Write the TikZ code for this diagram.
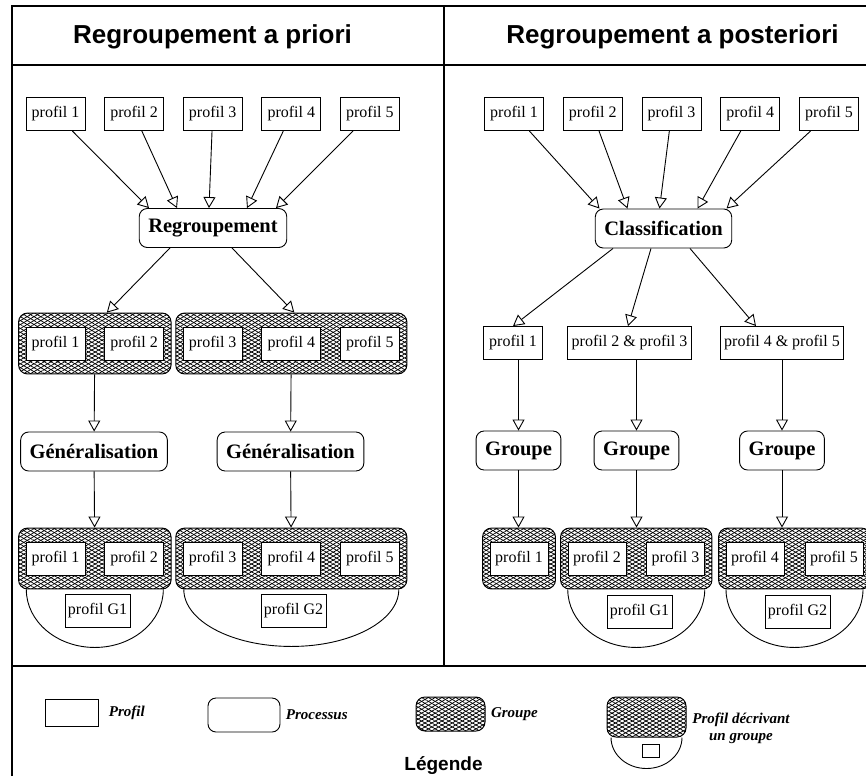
\documentclass[tikz,border=0pt]{standalone}
\usepackage{fontspec}
\setmainfont{Liberation Serif}
\setsansfont{Liberation Sans}
\usetikzlibrary{positioning, arrows.meta, fit, calc, patterns.meta, backgrounds}

\begin{document}
\begin{tikzpicture}[x=1pt,y=-1pt,
          pf/.style={draw,fill=white,line width=0.9pt,minimum width=59pt,minimum height=33pt,
            inner xsep=4pt,inner ysep=0pt,font=\fontsize{16}{18}\selectfont},
          proc/.style={draw,fill=white,line width=0.9pt,rounded corners=8pt,minimum height=39pt,
            inner xsep=9pt,font=\bfseries\fontsize{20.5}{22}\selectfont},
          grp/.style={draw,line width=1pt,rounded corners=9pt,inner xsep=7pt,inner ysep=13.5pt,
            pattern={Lines[angle=30,distance=3.4pt,line width=0.75pt]},
            postaction={pattern={Lines[angle=-30,distance=3.4pt,line width=0.75pt]}}},
          arr/.style={-{Triangle[open,length=11pt,width=12pt]},line width=0.9pt},
          ttl/.style={font=\sffamily\bfseries\fontsize{26}{28}\selectfont},
          lg/.style={font=\bfseries\itshape\fontsize{15}{17}\selectfont,anchor=west}
        ]
        \useasboundingbox (0,0) rectangle (866,776);
        \draw[line width=1.2pt] (12,776) -- (12,6) -- (866,6);
        \draw[line width=1.2pt] (12,65) -- (866,65) (444,6) -- (444,666) (12,666) -- (866,666);
        \node[ttl] (t1) at (212.5,37) {Regroupement a priori};
        \node[ttl] (t2) at (672.5,37) {Regroupement a posteriori};

        % a priori
        \foreach\i in {1,...,5}{\node[pf] (a\i) at ({55.5+78.6*(\i-1)},114) {profil \i};}
        \node[proc] (reg) at (213,228) {Regroupement};
        \foreach\i/\d in {1/-64,2/-36,3/-4,4/34,5/63}{\draw[arr] (a\i) -- ($(reg.north)+(\d,0)$);}
        \foreach\i in {1,...,5}{\node[pf] (b\i) at ({55.5+78.6*(\i-1)},343.5) {profil \i};}
        \node[proc] (gen1) at (94,451.5) {Généralisation};
        \node[proc] (gen2) at (290.5,451.5) {Généralisation};
        \foreach\i in {1,...,5}{\node[pf] (c\i) at ({55.5+78.6*(\i-1)},558.5) {profil \i};}
        \node[pf,minimum width=65pt,inner xsep=2pt] (cg1) at (97.5,611) {profil G1};
        \node[pf,minimum width=65pt,inner xsep=2pt] (cg2) at (293.5,611) {profil G2};
        \begin{scope}[on background layer]
          \node[grp,fit=(b1)(b2)] (gb1) {};
          \node[grp,fit=(b3)(b4)(b5)] (gb2) {};
          \node[grp,fit=(c1)(c2)] (gc1) {};
          \node[grp,fit=(c3)(c4)(c5)] (gc2) {};
          \draw[line width=0.9pt] ($(gc1.south)+(68.5,0)$) arc[start angle=0,end angle=180,x radius=68.5,y radius=58];
          \draw[line width=0.9pt] ($(gc2.south)+(107.5,0)$) arc[start angle=0,end angle=180,x radius=107.5,y radius=57];
        \end{scope}
        \draw[arr] ($(reg.south)+(-43,0)$) -- ($(gb1.north)+(12,0)$);
        \draw[arr] ($(reg.south)+(19,0)$) -- ($(gb2.north)+(3,0)$);
        \draw[arr] (gb1) -- (gen1);
        \draw[arr] (gb2) -- (gen2);
        \draw[arr] (gen1) -- (gc1);
        \draw[arr] (gen2) -- (gc2);

        % a posteriori
        \foreach\i in {1,...,5}{\node[pf] (d\i) at ({514+78.75*(\i-1)},114) {profil \i};}
        \node[proc] (cls) at (663.5,228.5) {Classification};
        \foreach\i/\d in {1/-64,2/-36,3/-4,4/34,5/63}{\draw[arr] (d\i) -- ($(cls.north)+(\d,0)$);}
        \node[pf] (e1) at (513,343) {profil 1};
        \node[pf] (e2) at (629.5,343) {profil 2 \& profil 3};
        \node[pf] (e3) at (782,343) {profil 4 \& profil 5};
        \draw[arr] ($(cls.south)+(-50.5,0)$) -- (e1.north);
        \draw[arr] ($(cls.south)+(-12.5,0)$) -- ($(e2.north)+(-1.5,0)$);
        \draw[arr] ($(cls.south)+(26.5,0)$) -- ($(e3.north)+(-26,0)$);
        \node[proc] (gr1) at (518.5,450.5) {Groupe};
        \node[proc] (gr2) at (636.5,450.5) {Groupe};
        \node[proc] (gr3) at (782,450.5) {Groupe};
        \foreach\i in {1,2,3}{\draw[arr] (e\i.south -| gr\i) -- (gr\i.north);}
        \foreach\i/\x in {1/519,2/597,3/675.5,4/755,5/834}{\node[pf,minimum width=58pt] (f\i) at (\x,558.5) {profil \i};}
        \node[pf,minimum width=65pt,inner xsep=2pt] (fg1) at (639.5,612) {profil G1};
        \node[pf,minimum width=65pt,inner xsep=2pt] (fg2) at (797.5,612) {profil G2};
        \begin{scope}[on background layer]
          \node[grp,fit=(f1)] (gf1) {};
          \node[grp,fit=(f2)(f3)] (gf2) {};
          \node[grp,fit=(f4)(f5)] (gf3) {};
          \draw[line width=0.9pt] ($(gf2.south)+(68.5,0)$) arc[start angle=0,end angle=180,x radius=68.5,y radius=58];
          \draw[line width=0.9pt] ($(gf3.south)+(68.5,0)$) arc[start angle=0,end angle=180,x radius=68.5,y radius=58];
        \end{scope}
        \foreach\i in {1,2,3}{\draw[arr] (gr\i) -- (gr\i |- gf\i.north);}

        % legende
        \node[pf,minimum width=53pt,minimum height=27pt] (lpf) at (71.5,712.5) {};
        \node[lg,right=7pt of lpf] (lpft) {Profil};
        \node[proc,minimum width=72pt,minimum height=34pt] (lproc) at (244,715) {};
        \node[lg,right=2pt of lproc] (lproct) {Processus};
        \node[grp,minimum width=69pt,minimum height=34pt] (lgrp) at (450.5,714) {};
        \node[lg,right=2pt of lgrp] (lgrpt) {Groupe};
        \begin{scope}[on background layer]
          \node[grp,minimum width=79pt,minimum height=40pt] (ldesc) at (646.5,717) {};
        \end{scope}
        \draw[line width=0.9pt] ($(ldesc.south)+(35.5,0)$) arc[start angle=0,end angle=180,x radius=35.5,y radius=31];
        \node[pf,minimum width=17pt,minimum height=13pt] (lsm) at (650.5,750.5) {};
        \node[font=\bfseries\itshape\fontsize{15}{17}\selectfont,align=center] (ldesct) at (741,728) {Profil décrivant\\un groupe};
        \node[font=\sffamily\bfseries\fontsize{19}{21}\selectfont] (leg) at (443.5,766) {Légende};
      \end{tikzpicture}
\end{document}
